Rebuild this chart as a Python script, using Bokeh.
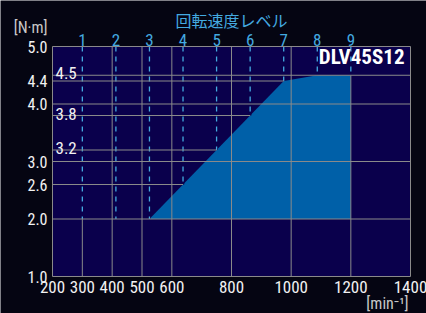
from bokeh.plotting import figure
from bokeh.models import Label, Range1d
from bokeh.core.properties import value
from bokeh.embed import file_html
from bokeh.resources import INLINE

# ---- data ----
speed_ticks = [200, 300, 400, 500, 600, 800, 1000, 1200, 1400]
torque_ticks = [1.0, 2.0, 2.6, 3.0, 4.0, 4.4, 5.0]
levels = [1, 2, 3, 4, 5, 6, 7, 8, 9]
level_speed = [300, 412.5, 525, 637.5, 750, 862.5, 975, 1087.5, 1200]
level_torque = [2.0, 2.0, 2.0, 2.6, 3.2, 3.8, 4.4, 4.5, 4.5]
full_grid_torque = [2.0, 3.0, 4.0, 4.5]
inner_labels = [3.2, 3.8, 4.5]
min_torque = 2.0
model_name = "DLV45S12"
level_title = "回転速度レベル"
y_unit = "[N·m]"
x_unit = "[min⁻¹]"

# ---- style / layout (pixels) ----
W, H = 426, 313
PL, PR, PT, PB = 52, 410, 46, 276   # plot-area edges on the canvas
NAVY = "#0a004c"
AREA = "#0060a8"
GRID = "#8a8a8a"
DASH = "#44aae0"
BG = "#050512"
FONT = "Roboto Condensed, DejaVu Sans Condensed, Liberation Sans Narrow, Roboto"
CJK = "Noto Sans CJK JP"
TXT = "#f2f2f2"
UNIT = "#c8c8c8"

X0, X1 = speed_ticks[0], speed_ticks[-1]
Y0, Y1 = torque_ticks[0], torque_ticks[-1]
sx = (X1 - X0) / (PR - PL)
sy = (Y1 - Y0) / (PB - PT)

p = figure(width=W, height=H, output_backend="svg", toolbar_location=None,
           x_range=Range1d(X0 - PL * sx, X1 + (W - PR) * sx),
           y_range=Range1d(Y0 - (H - PB) * sy, Y1 + PT * sy),
           x_axis_location=None, y_axis_location=None,
           min_border=0, background_fill_color=BG, border_fill_color=BG,
           outline_line_color=None)
p.grid.visible = False

# plot area
p.quad(left=[X0], right=[X1], bottom=[Y0], top=[Y1], fill_color=NAVY, line_color=None)

# operating area
area_x = level_speed[2:] + [level_speed[-1]]
area_y = level_torque[2:] + [min_torque]
p.patch(area_x, area_y, fill_color=AREA, line_color=None)

# vertical grid
vx = speed_ticks[1:-1]
p.segment(x0=vx, y0=[Y0] * len(vx), x1=vx, y1=[Y1] * len(vx), line_color=GRID, line_width=1)

# level dashed lines (with dark underlay hiding the grid beneath)
nl = len(level_speed)
p.segment(x0=level_speed, y0=[Y1] * nl, x1=level_speed, y1=level_torque, line_color=NAVY, line_width=2.5)
p.segment(x0=level_speed, y0=[Y1] * nl, x1=level_speed, y1=level_torque, line_color=DASH,
          line_width=1.3, line_dash="5 5")

# horizontal lines
n = len(full_grid_torque)
p.segment(x0=[X0] * n, y0=full_grid_torque, x1=[X1] * n, y1=full_grid_torque, line_color=GRID, line_width=1)
pt = level_torque[3:7]
ps = level_speed[3:7]
p.segment(x0=[X0] * len(pt), y0=pt, x1=ps, y1=pt, line_color=GRID, line_width=1)

# frame outline
p.quad(left=[X0], right=[X1], bottom=[Y0], top=[Y1], fill_color=None, line_color=GRID, line_width=1)

# tick labels
p.text(x=[X0] * len(torque_ticks), y=torque_ticks, text=[f"{t:.1f}" for t in torque_ticks],
       text_font=value(FONT), text_font_size="16px", text_color=TXT,
       text_align="right", text_baseline="middle", x_offset=-5)
p.text(x=speed_ticks, y=[Y0] * len(speed_ticks), text=[str(s) for s in speed_ticks],
       text_font=value(FONT), text_font_size="17px", text_color=TXT,
       text_align="center", text_baseline="top", y_offset=4)
p.text(x=level_speed, y=[Y1] * nl, text=[str(l) for l in levels],
       text_font=value(FONT), text_font_size="17px", text_color=DASH,
       text_align="center", text_baseline="bottom", y_offset=-1)

# inner value labels
p.text(x=[X0] * len(inner_labels), y=inner_labels, text=[f"{v:.1f}" for v in inner_labels],
       text_font=value(FONT), text_font_size="17px", text_color=TXT,
       text_align="left", text_baseline="middle", x_offset=3, y_offset=-2)

# titles / units
p.add_layout(Label(x=(X0 + X1) / 2, y=Y1, y_offset=27, text=level_title,
                   text_font=CJK, text_font_size="16px", text_color=DASH,
                   text_align="center", text_baseline="middle"))
p.add_layout(Label(x=X1, y=Y1, x_offset=-6, y_offset=-10, text=model_name,
                   text_font=FONT, text_font_size="21px", text_font_style="bold", text_color="white",
                   text_align="right", text_baseline="middle"))
p.add_layout(Label(x=X0, y=Y1, x_offset=-5, y_offset=19, text=y_unit,
                   text_font=FONT, text_font_size="16px", text_color=UNIT,
                   text_align="right", text_baseline="middle"))
p.add_layout(Label(x=X1, y=Y0, x_offset=-2, y_offset=-27, text=x_unit,
                   text_font=FONT, text_font_size="16px", text_color=UNIT,
                   text_align="right", text_baseline="middle"))

open("out.html", "w").write(file_html(p, INLINE))
